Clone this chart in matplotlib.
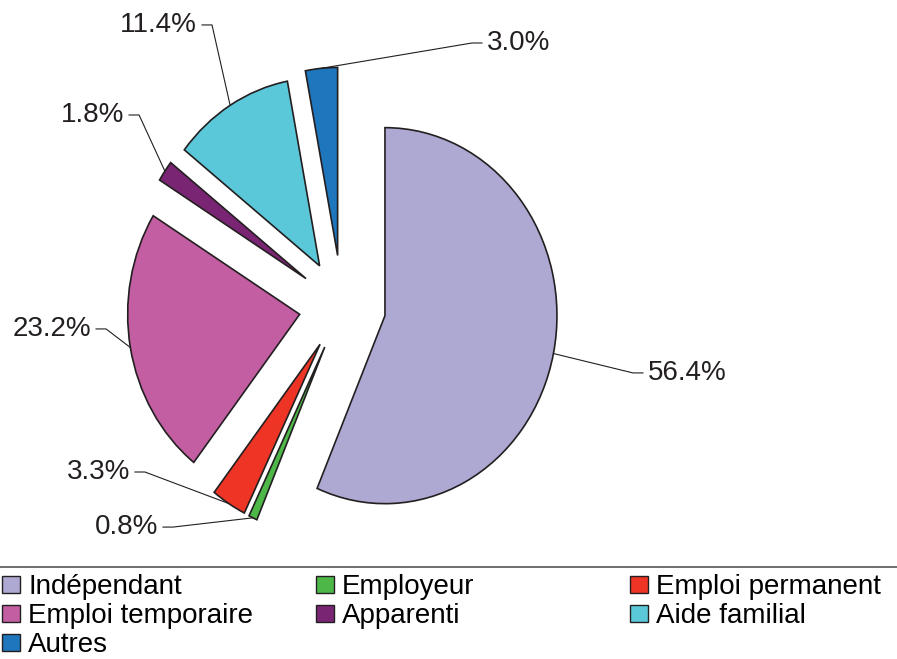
import matplotlib
matplotlib.use('Agg')
import matplotlib.pyplot as plt
from matplotlib.patches import Patch
from matplotlib.lines import Line2D
import numpy as np

plt.rcParams['font.family'] = ['Liberation Sans', 'DejaVu Sans']

# data, clockwise from 12 o'clock
categories = ['Indépendant', 'Employeur', 'Emploi permanent', 'Emploi temporaire',
              'Apparenti', 'Aide familial', 'Autres']
shares = [56.4, 0.8, 3.3, 23.2, 1.8, 11.4, 3.0]
pct_labels = ['56.4%', '0.8%', '3.3%', '23.2%', '1.8%', '11.4%', '3.0%']
colors = ['#aea9d3', '#4db848', '#ee3424', '#c35ea2', '#7a2574', '#5bc8da', '#1e76bd']
explode = [0.255, 0.24, 0.24, 0.25, 0.255, 0.25, 0.27]

# label text anchors (data units) and which side the leader comes from
label_pos = [(1.779, -0.356, 'left'), (-1.070, -1.176, 'right'), (-1.233, -0.883, 'right'),
             (-1.459, -0.122, 'right'), (-1.267, 1.016, 'right'), (-0.843, 1.495, 'right'),
             (0.843, 1.399, 'left')]

W, H = 897, 659
EDGE = '#231f20'

fig = plt.figure(figsize=(W / 100, H / 100), dpi=100)

# pie box: everything above the legend rule; pie is a bit squashed sideways
cx, cy = 342, 306      # centre, px from top-left
rx, ry = 172, 188      # radius in px
bottom = 560
ax = fig.add_axes([0, (H - bottom) / H, 1, bottom / H])
wedges, _ = ax.pie(shares, explode=explode, colors=colors, startangle=90,
                   counterclock=False,
                   wedgeprops=dict(edgecolor=EDGE, linewidth=1.2))
ax.set_aspect('auto')
ax.set_xlim(-cx / rx, (W - cx) / rx)
ax.set_ylim(-(bottom - cy) / ry, cy / ry)

gap = 5 / rx
knee = 10 / rx
for w, txt, (tx, ty, side) in zip(wedges, pct_labels, label_pos):
    mid = np.deg2rad((w.theta1 + w.theta2) / 2)
    px, py = w.center[0] + w.r * np.cos(mid), w.center[1] + w.r * np.sin(mid)
    sgn = -1 if side == 'left' else 1
    x1 = tx + sgn * gap
    x2 = x1 + sgn * knee
    ax.plot([x1, x2, px], [ty, ty, py], color=EDGE, lw=0.8)
    ax.text(tx, ty, txt, ha=side, va='center', fontsize=20, color='#231f20')

# rule above the legend
fig.add_artist(Line2D([0, 1], [1 - 567 / H] * 2, transform=fig.transFigure,
                      color='#555555', lw=1.2))

handles = [Patch(facecolor=c, edgecolor=EDGE, linewidth=1.0) for c in colors]
columns = [[0, 3, 6], [1, 4], [2, 5]]
col_x = [2, 316, 630]
for idx, x0 in zip(columns, col_x):
    fig.legend([handles[i] for i in idx], [categories[i] for i in idx],
               loc='upper left', bbox_to_anchor=(x0 / W, 1 - 574 / H),
               frameon=False, fontsize=20, handlelength=0.64, handleheight=0.56,
               handletextpad=0.3, labelspacing=0.11, borderpad=0, borderaxespad=0)

fig.savefig('out.png', dpi=100)
